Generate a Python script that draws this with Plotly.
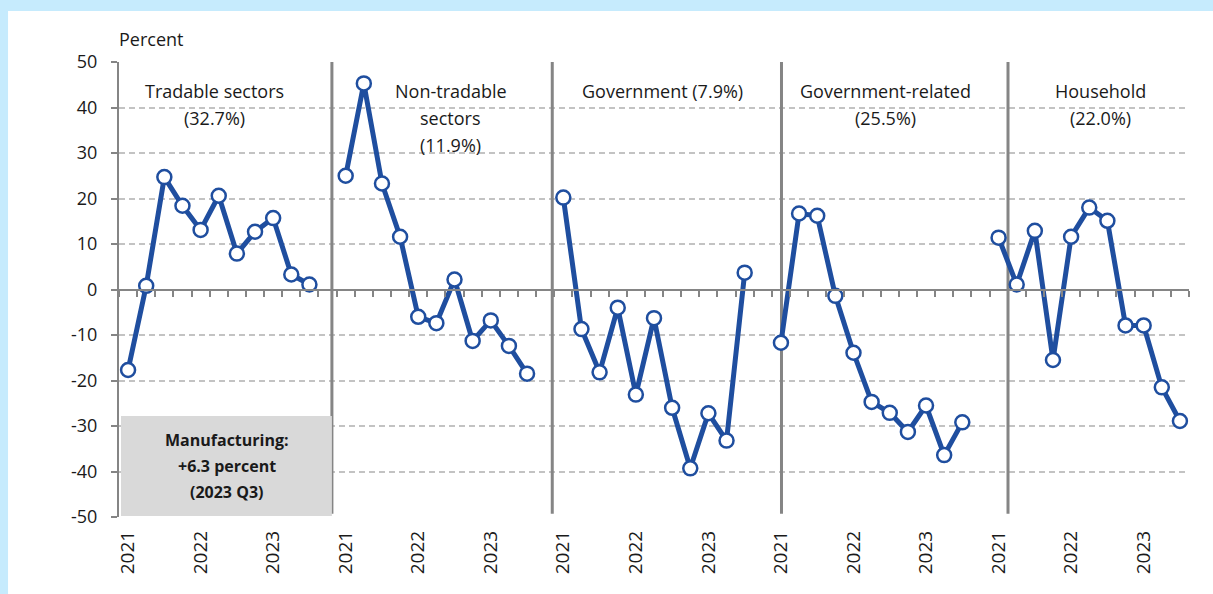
import plotly.graph_objects as go

# quarterly growth, 2021Q1 .. 2023Q3, one list per panel
tradable = [-17.7, 0.8, 24.7, 18.4, 13.1, 20.6, 7.9, 12.7, 15.7, 3.3, 1.1]
non_tradable = [25.0, 45.3, 23.3, 11.6, -6.0, -7.4, 2.2, -11.3, -6.8, -12.4, -18.5]
government = [20.2, -8.7, -18.2, -4.0, -23.1, -6.3, -26.0, -39.3, -27.2, -33.2, 3.7]
gov_related = [-11.7, 16.7, 16.2, -1.4, -13.9, -24.7, -27.1, -31.3, -25.5, -36.4, -29.2]
household = [11.4, 1.1, 12.9, -15.5, 11.6, 18.0, 15.1, -7.9, -7.9, -21.5, -28.9]

series = [tradable, non_tradable, government, gov_related, household]
years = ["2021", "2022", "2023"]
year_slots = [0, 4, 8]
y_ticks = [-50, -40, -30, -20, -10, 0, 10, 20, 30, 40, 50]

panel_titles = [
    (["Tradable sectors", "(32.7%)"], 4.79),
    (["Non-tradable", "sectors", "(11.9%)"], 17.8),
    (["Government (7.9%)"], 29.46),
    (["Government-related", "(25.5%)"], 41.78),
    (["Household", "(22.0%)"], 53.6),
]
separators = [11.24, 23.39, 36.03, 48.52]

BLUE = "#1f4e9f"
GRAY = "#858585"
LIGHT_BLUE = "#c6ebfd"
FONT = "Open Sans"

fig = go.Figure()

for p, vals in enumerate(series):
    xs = [p * 12 + i for i in range(len(vals))]
    fig.add_trace(go.Scatter(
        x=xs, y=vals, mode="lines+markers",
        line=dict(color=BLUE, width=5),
        marker=dict(size=14, color="white", line=dict(color=BLUE, width=2.5)),
        showlegend=False, hoverinfo="x+y",
    ))

# dummy trace to activate the zero-line axis
fig.add_trace(go.Scatter(x=[0], y=[0], xaxis="x2", mode="markers",
                         marker=dict(opacity=0), showlegend=False, hoverinfo="skip"))

tickvals, ticktext = [], []
for p in range(5):
    for s, yr in zip(year_slots, years):
        tickvals.append(p * 12 + s)
        ticktext.append(yr)

fig.update_layout(
    width=1213, height=594,
    paper_bgcolor=LIGHT_BLUE,
    plot_bgcolor="white",
    margin=dict(l=119, r=24, t=62, b=77),
    font=dict(family=FONT, color="#1a1a1a", size=18),
    xaxis=dict(range=[-0.5, 58.5], tickvals=tickvals, ticktext=ticktext,
               tickangle=-90, showgrid=False, showline=False, zeroline=False,
               ticks="", ticklabelstandoff=9, tickfont=dict(size=19)),
    xaxis2=dict(range=[-0.5, 58.5], overlaying="x", anchor="free", position=0.5,
                side="bottom", showline=True, linecolor=GRAY, linewidth=2,
                tickvals=[k - 0.5 for k in range(60)], ticks="outside", ticklen=6,
                tickwidth=1.5, tickcolor=GRAY, showticklabels=False,
                showgrid=False, zeroline=False),
    yaxis=dict(range=[-50, 50], tickvals=y_ticks, ticktext=[str(v) for v in y_ticks],
               showgrid=True, gridcolor="#c3c3c3",
               gridwidth=1.5, griddash="6px,4px", zeroline=False,
               showline=True, linecolor=GRAY, linewidth=2,
               ticks="outside", ticklen=6, tickcolor=GRAY, tickwidth=1.5,
               ticklabelstandoff=10, tickfont=dict(size=18)),
)

# white card behind the chart
fig.add_shape(type="rect", xref="paper", yref="paper",
              x0=-0.1037, x1=1.05, y0=-0.2, y1=1.1121,
              fillcolor="white", line=dict(width=0), layer="below")

for sx in separators:
    fig.add_shape(type="line", xref="x", yref="y", x0=sx, x1=sx, y0=50, y1=-49.3,
                  line=dict(color=GRAY, width=3), layer="between")

# manufacturing box
fig.add_shape(type="rect", xref="x", yref="y", x0=-0.39, x1=11.24, y0=-49.8, y1=-27.8,
              fillcolor="#d9d9d9", line=dict(width=0), layer="between")
for txt, yv in zip(["Manufacturing:", "+6.3 percent", "(2023 Q3)"], [-33.1, -38.8, -44.5]):
    fig.add_annotation(x=5.44, y=yv, xref="x", yref="y", text="<b>" + txt + "</b>",
                       showarrow=False, font=dict(size=16, color="#1a1a1a"))

line_step = 27 / 4.55
for lines, xc in panel_titles:
    for i, txt in enumerate(lines):
        fig.add_annotation(x=xc, y=43.6 - i * line_step, xref="x", yref="y", text=txt,
                           showarrow=False, font=dict(size=18, color="#1a1a1a"))

fig.add_annotation(x=-0.0019, y=1.05, xref="paper", yref="paper", text="Percent",
                   showarrow=False, xanchor="left", yanchor="middle",
                   font=dict(size=18, color="#1a1a1a"))

# drop the default page margin so the figure sits at the window origin
fig.write_html("out.html", config={"displayModeBar": False}, post_script=(
    "document.body.style.margin='0';"
    f"document.body.style.background='{LIGHT_BLUE}';"
))
